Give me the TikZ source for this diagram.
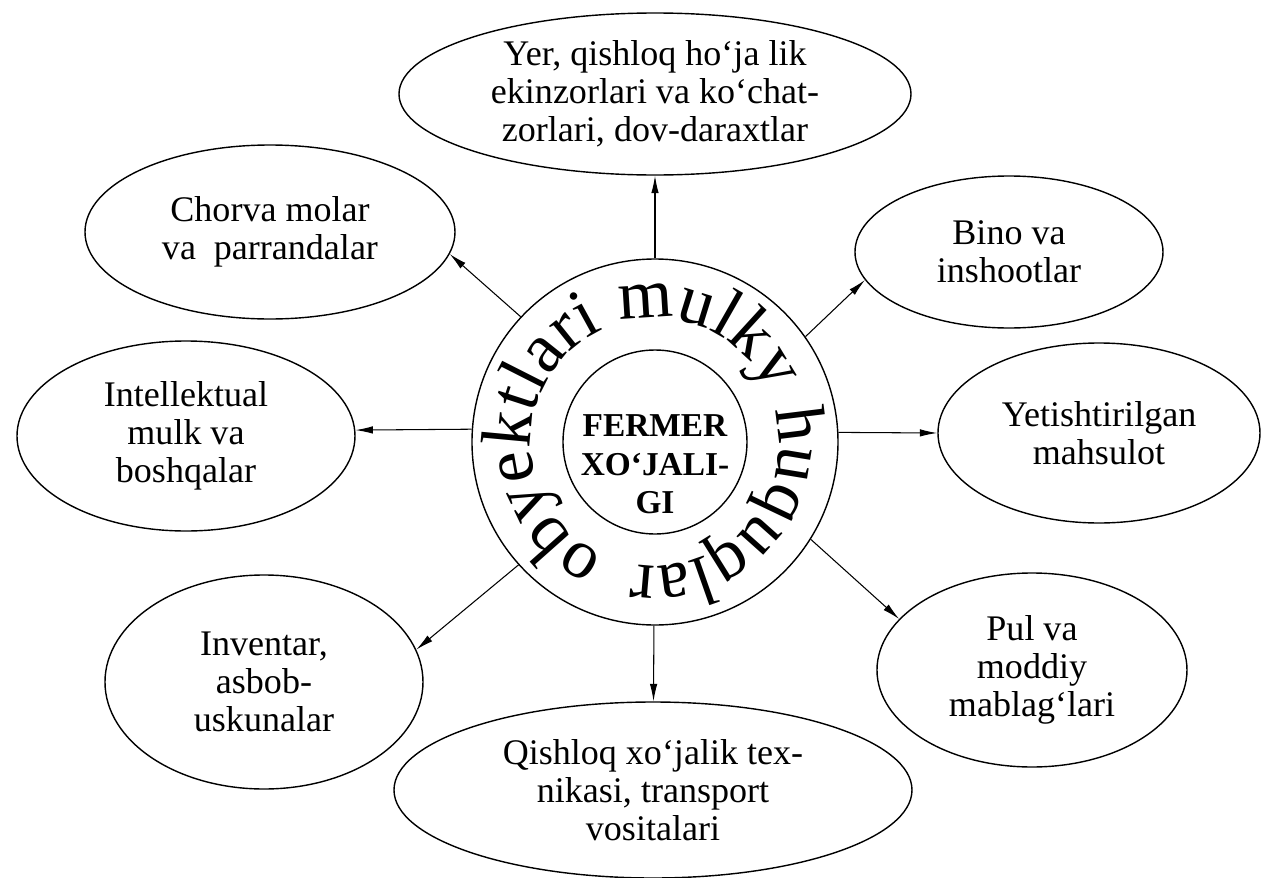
\documentclass[tikz,border=0pt]{standalone}
\usepackage{fontspec}
\setmainfont{Liberation Serif}
\usetikzlibrary{shapes.geometric,arrows.meta,decorations.text}

\begin{document}
\begin{tikzpicture}[->,>={Latex[length=3.5mm,width=1.5mm]},semithick]
  \tikzstyle{obj}=[ellipse,draw,thick,inner sep=-5mm,align=center,font=\fontsize{20.5}{21.5}\selectfont]
  \useasboundingbox (-13.1,-8.70) rectangle (12.12,8.84);
  \clip (-13.1,-8.70) rectangle (12.12,8.84);
  \node[circle,draw,thick,minimum size=7.32cm] (ring) at (0,0) {};
  \node[circle,draw,thick,minimum size=3.68cm] (core) at (0,0) {};
  \node[align=center,font=\bfseries\fontsize{19}{22}\selectfont] (fermer) at (0,-0.45) {FERMER\\XO‘JALI-\\GI};
  \path[decorate,decoration={text along path,text align=left,
      text={|\fontsize{40}{40}\selectfont|obyektlari mulky huquqlar}}]
    (246:2.48) arc[start angle=246,end angle=-114,radius=2.48];
  \node[obj,minimum width=10.24cm,minimum height=3.24cm] (yer) at (0,6.96) {Yer, qishloq ho‘ja lik\\ekinzorlari va ko‘chat-\\zorlari, dov-daraxtlar};
  \node[obj,minimum width=7.4cm,minimum height=3.48cm] (chorva) at (-7.70,4.20) {Chorva molar\\va\ \ parrandalar};
  \node[obj,minimum width=6.76cm,minimum height=3.8cm] (intel) at (-9.38,0.12) {Intellektual\\mulk va\\boshqalar};
  \node[obj,minimum width=6.36cm,minimum height=4.28cm] (inventar) at (-7.82,-4.80) {Inventar,\\asbob-\\uskunalar};
  \node[obj,minimum width=10.36cm,minimum height=3.52cm] (texnika) at (-0.04,-6.96) {Qishloq xo‘jalik tex-\\nikasi, transport\\vositalari};
  \node[obj,minimum width=6.16cm,minimum height=3.04cm] (bino) at (7.08,3.80) {Bino va\\inshootlar};
  \node[obj,minimum width=6.44cm,minimum height=3.6cm] (mahsulot) at (8.88,0.18) {Yetishtirilgan\\mahsulot};
  \node[obj,minimum width=6.2cm,minimum height=3.88cm] (pul) at (7.54,-4.56) {Pul va\\moddiy\\mablag‘lari};
  \draw (ring) -- (yer);
  \draw (ring.137) -- (chorva.-7);
  \draw (ring.176) -- (intel.2);
  \draw (ring.222) -- (inventar.12);
  \draw (ring) -- (texnika);
  \draw (ring.35) -- (bino.191);
  \draw (ring.3) -- (mahsulot.180);
  \draw (ring.-32) -- (pul.159);
\end{tikzpicture}
\end{document}
